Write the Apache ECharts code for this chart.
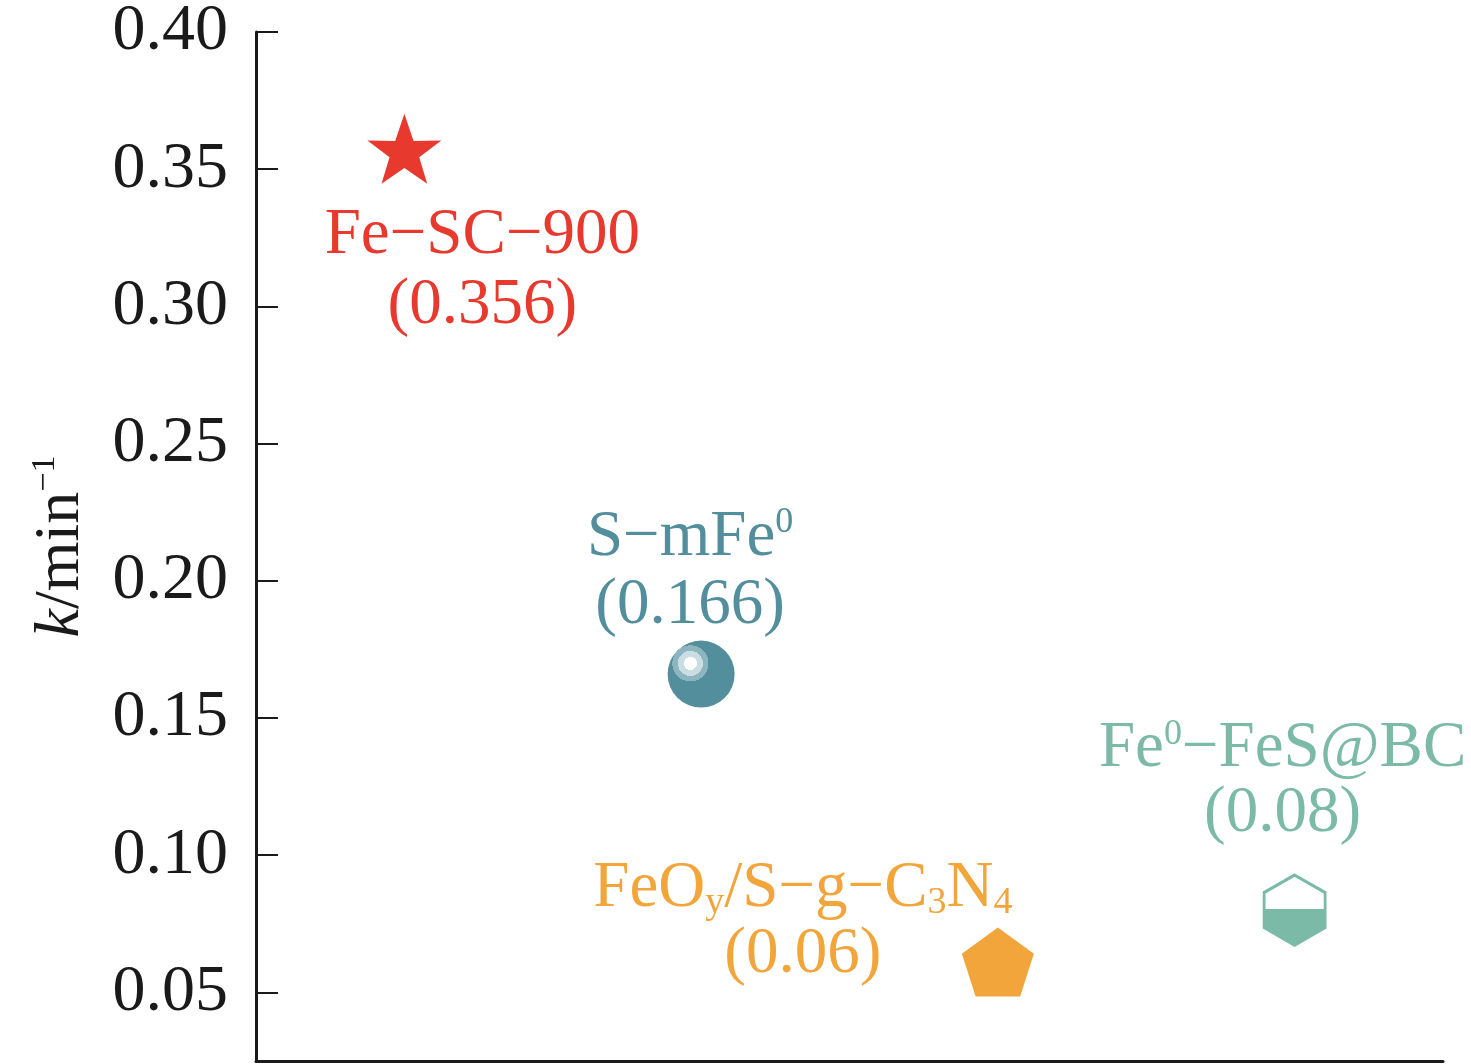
<!DOCTYPE html>
<html><head><meta charset="utf-8">
<script src="https://cdn.jsdelivr.net/npm/echarts@6/dist/echarts.min.js"></script>
<style>html,body{margin:0;padding:0;background:#fff}#c{width:1471px;height:1064px}</style>
</head><body><div id="c"></div>
<script>
// ---- data ----
const categories = ['Fe−SC−900', 'S−mFe0', 'FeOy/S−g−C3N4', 'Fe0−FeS@BC'];
const kValues = [0.356, 0.166, 0.06, 0.08];
const kLabels = ['0.356', '0.166', '0.06', '0.08'];
const yMin = 0.025;
const yMax = 0.40;
const yTickStep = 0.05;

// ---- styles ----
const FONT = 'Liberation Serif';
const RED = '#e8392f', BLUE = '#528e9c', ORANGE = '#f2a53b', TEAL = '#7cbaa8';
const richLabelFirst = [
  '{a|Fe−SC−900}',
  '{a|S−mFe}{sup|0}',
  '{a|FeO}{sub|y}{a|/S−g−C}{sub|3}{a|N}{sub|4}',
  '{a|Fe}{sup|0}{a|−FeS@BC}'
];
const lineHeights = [70, 68, 66, 65];
const labelOffsets = [[78, 122], [-11, -102], [-195, -40], [-12, -129]];
const colors = [RED, BLUE, ORANGE, TEAL];

function rich(color, lh) {
  return {
    a: {fontFamily: FONT, fontSize: 65, color: color, lineHeight: lh},
    sup: {fontFamily: FONT, fontSize: 36, color: color, lineHeight: 36, verticalAlign: 'top'},
    sub: {fontFamily: FONT, fontSize: 38, color: color, lineHeight: 31, verticalAlign: 'bottom'}
  };
}

const symbols = [
  {symbol: 'path://M50,0 L61.8,35.3 L97.6,34.5 L69.1,56.1 L79.4,90.5 L50,70 L20.6,90.5 L30.9,56.1 L2.4,34.5 L38.2,35.3 Z',
   size: [74, 70], offset: [0, -4],
   style: {color: RED, opacity: 1}},
  {symbol: 'circle', size: 67, offset: [0, 0],
   style: {opacity: 1, color: {type: 'radial', x: 0.34, y: 0.34, r: 1, colorStops: [
     {offset: 0, color: '#ffffff'}, {offset: 0.097, color: '#ffffff'},
     {offset: 0.097, color: '#c9dde2'}, {offset: 0.187, color: '#c9dde2'},
     {offset: 0.187, color: '#8cb5bf'}, {offset: 0.27, color: '#8cb5bf'},
     {offset: 0.27, color: BLUE}, {offset: 1, color: BLUE}]}}},
  {symbol: 'path://M100,0 L195.1,69.1 L158.8,180.9 L41.2,180.9 L4.9,69.1 Z',
   size: [72, 69], offset: [0, -3], style: {color: ORANGE, opacity: 1}},
  {symbol: 'path://M86.6,0 L173.2,50 L173.2,150 L86.6,200 L0,150 L0,50 Z',
   size: [61, 70], offset: [0, 0],
   style: {opacity: 1, color: {type: 'linear', x: 0, y: 0, x2: 0, y2: 1, colorStops: [
     {offset: 0, color: '#ffffff'}, {offset: 0.49, color: '#ffffff'},
     {offset: 0.49, color: TEAL}, {offset: 1, color: TEAL}]},
     borderColor: TEAL, borderWidth: 3}}
];

const data = kValues.map((v, i) => ({
  value: [categories[i], v],
  symbol: symbols[i].symbol,
  symbolSize: symbols[i].size,
  symbolOffset: symbols[i].offset,
  itemStyle: symbols[i].style,
  label: {
    show: true,
    position: 'inside',
    align: 'center',
    verticalAlign: 'middle',
    offset: labelOffsets[i],
    opacity: 1,
    formatter: richLabelFirst[i] + '\n{a|(' + kLabels[i] + ')}',
    rich: rich(colors[i], lineHeights[i])
  }
}));

const chart = echarts.init(document.getElementById('c'), null, {renderer: 'canvas'});
chart.setOption({
  animation: false,
  grid: {left: 256, right: 28, top: 32, bottom: 3, containLabel: false, outerBoundsMode: 'none'},
  xAxis: {
    type: 'category',
    data: categories,
    boundaryGap: true,
    axisLine: {show: true, lineStyle: {color: '#1a1a1a', width: 3}},
    axisTick: {show: false},
    axisLabel: {show: false},
    splitLine: {show: false}
  },
  yAxis: {
    type: 'value',
    min: yMin,
    max: yMax,
    splitNumber: 7,
    name: '{i|k}{n|/min}{sup|−1}',
    nameLocation: 'middle',
    nameGap: 162,
    nameRotate: 90,
    nameTextStyle: {
      rich: {
        i: {fontFamily: FONT, fontSize: 64, fontStyle: 'italic', color: '#1a1a1a', lineHeight: 66},
        n: {fontFamily: FONT, fontSize: 64, color: '#1a1a1a', lineHeight: 66},
        sup: {fontFamily: FONT, fontSize: 34, color: '#1a1a1a', lineHeight: 34, verticalAlign: 'top'}
      }
    },
    axisLine: {show: true, lineStyle: {color: '#1a1a1a', width: 3}},
    axisTick: {show: true, inside: true, length: 22, lineStyle: {color: '#1a1a1a', width: 2}},
    axisLabel: {
      fontFamily: FONT, fontSize: 66, color: '#1a1a1a', margin: 28,
      showMinLabel: false,
      formatter: function (v) {
        const r = v / yTickStep;
        return Math.abs(r - Math.round(r)) < 1e-6 ? v.toFixed(2) : '';
      }
    },
    splitLine: {show: false}
  },
  series: [{
    type: 'scatter',
    data: data,
    silent: true,
    emphasis: {disabled: true}
  }]
});
</script></body></html>
